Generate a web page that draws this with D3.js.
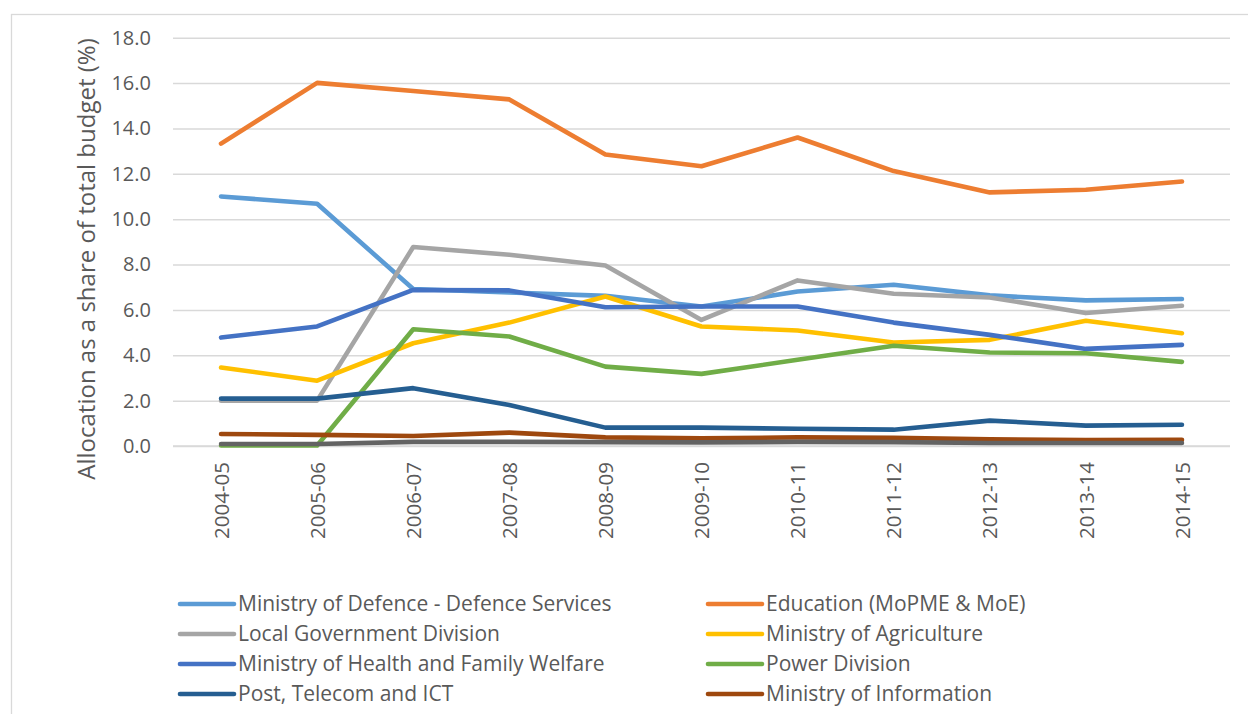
<!DOCTYPE html>
<html><head><meta charset="utf-8">
<script src="https://cdn.jsdelivr.net/npm/d3@7/dist/d3.min.js"></script>
<style>body{margin:0;background:#fff;}svg{display:block;font-family:"Open Sans",sans-serif;}</style>
</head><body><svg id="c" width="1248" height="714"></svg>
<script>
const years = ["2004-05","2005-06","2006-07","2007-08","2008-09","2009-10","2010-11","2011-12","2012-13","2013-14","2014-15"];
const yTicks = [0,2,4,6,8,10,12,14,16,18];
const seriesNames = ["Ministry of Defence - Defence Services","Education (MoPME & MoE)","Local Government Division","Ministry of Agriculture","Ministry of Health and Family Welfare","Power Division","Post, Telecom and ICT","Ministry of Information",""];
const defence     = [11.0,10.68,6.92,6.77,6.62,6.15,6.81,7.11,6.64,6.42,6.48];
const education   = [13.33,16.01,15.65,15.28,12.85,12.33,13.6,12.12,11.18,11.3,11.66];
const localGov    = [2.0,2.0,8.77,8.43,7.96,5.56,7.30,6.71,6.55,5.86,6.18];
const agriculture = [3.46,2.88,4.53,5.44,6.59,5.27,5.09,4.56,4.68,5.52,4.97];
const health      = [4.78,5.27,6.88,6.86,6.12,6.15,6.15,5.44,4.90,4.28,4.46];
const power       = [0.02,0.02,5.15,4.83,3.50,3.18,3.80,4.42,4.12,4.09,3.71];
const post        = [2.09,2.09,2.55,1.81,0.81,0.81,0.76,0.72,1.12,0.90,0.94];
const information = [0.53,0.49,0.44,0.59,0.38,0.34,0.38,0.36,0.29,0.26,0.27];
const other       = [0.09,0.09,0.18,0.18,0.17,0.16,0.18,0.17,0.13,0.13,0.13];
const colors = ["#5B9BD5","#ED7D31","#A5A5A5","#FFC000","#4472C4","#70AD47","#255E91","#9E480E","#636363"];
const allSeries = [defence,education,localGov,agriculture,health,power,post,information,other];

const svg = d3.select("#c");
svg.append("rect").attr("x",11.5).attr("y",14.5).attr("width",1300).attr("height",800)
  .attr("fill","#fff").attr("stroke","#D9D9D9").attr("stroke-width",1.3);

const x = d3.scalePoint().domain(years).range([173,1230]).padding(0.5);
const y = d3.scaleLinear().domain([0,18]).range([446,37.7]);

// gridlines
const gy = d3.axisLeft(y).tickValues(yTicks).tickSize(-(1230-173)).tickFormat(d=>d.toFixed(1));
const gAxis = svg.append("g").attr("transform","translate(173,0)").call(gy)
  .attr("font-family","'Open Sans',sans-serif");
gAxis.select(".domain").remove();
gAxis.selectAll(".tick line").attr("stroke","#D9D9D9").attr("stroke-width",1.5);
gAxis.selectAll(".tick text").attr("fill","#595959").style("font-size","20px").attr("x",-22);

// x axis
const gx = svg.append("g").attr("transform","translate(0,446)").call(d3.axisBottom(x).tickSize(0))
  .attr("font-family","'Open Sans',sans-serif");
gx.select(".domain").attr("stroke","#D9D9D9").attr("stroke-width",1.5).attr("d","M173,0H1230");
gx.selectAll(".tick text").attr("fill","#595959").style("font-size","20.5px")
  .attr("transform","rotate(-90)").attr("text-anchor","end").attr("x",-16).attr("y",0).attr("dy","0.35em");

// axis title
svg.append("text").attr("transform","translate(87,259) rotate(-90)").attr("text-anchor","middle")
  .attr("fill","#595959").style("font-size","24px").attr("dy","0.35em").text("Allocation as a share of total budget (%)");

// lines
const line = d3.line().x((d,i)=>x(years[i])).y(d=>y(d));
allSeries.forEach((s,k)=>{
  svg.append("path").datum(s).attr("d",line).attr("fill","none").attr("stroke",colors[k])
    .attr("stroke-width",4.6).attr("stroke-linejoin","round").attr("stroke-linecap","round");
});

// legend
const leg = svg.append("g");
seriesNames.forEach((n,k)=>{
  if(!n) return;
  const col = k%2, row = Math.floor(k/2);
  const lx = col===0 ? 180 : 708, ly = 604 + row*30;
  leg.append("line").attr("x1",lx).attr("x2",lx+54).attr("y1",ly).attr("y2",ly)
    .attr("stroke",colors[k]).attr("stroke-width",4.6).attr("stroke-linecap","round");
  leg.append("text").attr("x",lx+58).attr("y",ly).attr("dy","0.35em").attr("fill","#595959")
    .style("font-size","21px").text(n);
});
</script></body></html>
